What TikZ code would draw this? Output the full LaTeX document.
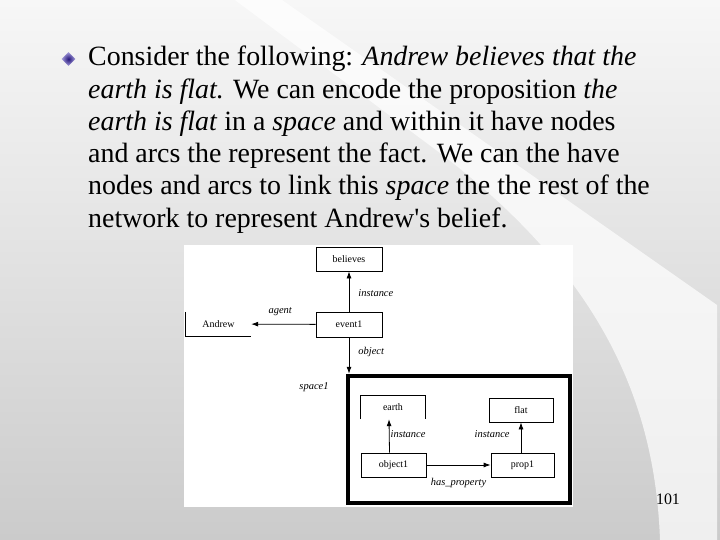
\documentclass[tikz,border=0pt]{standalone}
\usepackage{fontspec}
\setmainfont{Liberation Serif}
\usetikzlibrary{positioning,arrows.meta,shapes.geometric}
\definecolor{SlideTop}{HTML}{F7F7F7}
\definecolor{SlideBottom}{HTML}{CBCBCB}
\definecolor{BulletDark}{HTML}{24157A}
\definecolor{BulletLight}{HTML}{A59DDC}

\begin{document}
\begin{tikzpicture}[x=1bp,y=-1bp,
    box/.style={draw,line width=0.8bp,inner sep=0pt,minimum width=66bp,minimum height=24bp,font=\fontsize{10}{12}\selectfont},
    lbl/.style={inner sep=0pt,font=\fontsize{10.5}{12}\selectfont\itshape},
    arr/.style={-{Latex[length=7bp,width=5bp]},line width=0.8bp}]
        \useasboundingbox (0,0) rectangle (720,540);
        % slide background
        \fill[top color=SlideTop,bottom color=SlideBottom] (0,0) rectangle (720,540);
        \fill[white,opacity=0.7] (235,0) -- (440,153) .. controls (600,275) and (655,400) .. (660,540) -- (717,540) -- (717,305) -- (282,0) -- cycle;
        % bullet text
        \node[diamond,inner sep=0pt,minimum size=14bp,inner color=BulletDark,outer color=BulletLight] (bullet) at (68.5,59) {};
        \node[anchor=north west,align=left,inner sep=0pt,font=\fontsize{28}{32.4}\selectfont] (txt) at (88,46) {Consider the following: \textit{Andrew believes that the}\\
            \textit{earth is flat.} We can encode the proposition \textit{the}\\
            \textit{earth is flat} in a \textit{space} and within it have nodes\\
            and arcs the represent the fact. We can the have\\
            nodes and arcs to link this \textit{space} the the rest of the\\
            network to represent Andrew\textquotesingle s belief.};
        % diagram
        \fill[white] (184,245) rectangle (573,507);
        \node[box] (believes) at (349,259) {believes};
        \node[box,minimum height=25bp] (event1) at (349,324.5) {event1};
        \node[inner sep=0pt,minimum width=65bp,minimum height=24bp,font=\fontsize{10}{12}\selectfont] (andrew) at (218.5,324) {Andrew};
        \draw[line width=0.8bp] (andrew.north west) |- (andrew.south east);
        \node[draw,line width=4.5bp,inner sep=0pt,minimum width=222bp,minimum height=127bp] (space1) at (459,439.5) {};
        \node[lbl] (spacelbl) at (314,387) {space1};
        \node[inner sep=0pt,minimum width=64bp,minimum height=23bp,font=\fontsize{10}{12}\selectfont] (earth) at (393,407.5) {earth};
        \draw[line width=0.8bp] (earth.south west) |- (earth.north east) -- (earth.south east);
        \node[box,minimum width=64bp] (flat) at (521,410) {flat};
        \node[box,minimum width=65bp] (object1) at (393.5,465) {object1};
        \node[box,minimum width=63bp] (prop1) at (522.5,465) {prop1};
        \draw[arr] (event1) -- (believes) node[lbl,pos=0.45,right=9bp] {instance};
        \draw[arr] (event1) -- (andrew) node[lbl,pos=0.55,above=8bp] {agent};
        \draw[arr] (event1) -- (space1.north -| event1) node[lbl,pos=0.4,right=9bp] {object};
        \draw[arr] ([xshift=-4bp]object1.north) -- ([xshift=-4bp]earth.south) node[lbl,pos=0.55,right=1bp] {instance};
        \draw[arr] (prop1.north -| flat) -- (flat) node[lbl,pos=0.6,left=11bp] {instance};
        \draw[arr] (object1) -- (prop1) node[lbl,midway,below=13bp] {has\_property};
        \node[font=\fontsize{16}{18}\selectfont] (pagenum) at (668,499) {101};
\end{tikzpicture}
\end{document}
